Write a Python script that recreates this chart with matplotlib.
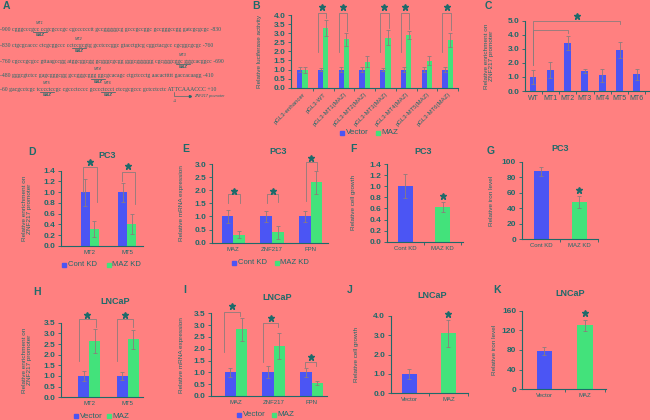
import matplotlib
matplotlib.use('Agg')
import matplotlib.pyplot as plt
from matplotlib.patches import Rectangle
from matplotlib.lines import Line2D
import numpy as np

# ---------------- data ----------------
b_cats = ['pGL3-enhancer', 'pGL3-WT', 'pGL3-MT1(MAZ)', 'pGL3-MT2(MAZ)',
          'pGL3-MT3(MAZ)', 'pGL3-MT4(MAZ)', 'pGL3-MT5(MAZ)', 'pGL3-MT6(MAZ)']
b_vector = [1.0, 1.0, 1.0, 1.0, 1.0, 1.0, 1.0, 1.0]
b_vector_err = [0.15, 0.1, 0.15, 0.12, 0.1, 0.12, 0.15, 0.12]
b_maz = [0.97, 3.27, 2.66, 1.43, 2.75, 2.9, 1.49, 2.63]
b_maz_err = [0.15, 0.45, 0.35, 0.3, 0.4, 0.2, 0.25, 0.4]
b_sig = [1, 2, 4, 5, 7]

c_cats = ['WT', 'MT1', 'MT2', 'MT3', 'MT4', 'MT5', 'MT6']
c_vals = [1.0, 1.5, 3.4, 1.42, 1.12, 2.93, 1.2]
c_err = [0.5, 0.55, 0.5, 0.15, 0.45, 0.55, 0.4]

d_cats = ['MT2', 'MT5']
d_cont = [1.0, 1.0]
d_cont_err = [0.25, 0.18]
d_kd = [0.31, 0.41]
d_kd_err = [0.15, 0.19]

e_cats = ['MAZ', 'ZNF217', 'FPN']
e_cont = [1.0, 1.0, 1.0]
e_cont_err = [0.25, 0.2, 0.2]
e_kd = [0.3, 0.4, 2.3]
e_kd_err = [0.13, 0.25, 0.45]

f_cats = ['Cont KD', 'MAZ KD']
f_vals = [1.0, 0.62]
f_err = [0.22, 0.09]

g_cats = ['Cont KD', 'MAZ KD']
g_vals = [88, 48]
g_err = [6, 8]

h_cats = ['MT2', 'MT5']
h_vector = [1.0, 1.0]
h_vector_err = [0.25, 0.2]
h_maz = [2.65, 2.72]
h_maz_err = [0.55, 0.45]

i_cats = ['MAZ', 'ZNF217', 'FPN']
i_vector = [1.0, 1.0, 1.0]
i_vector_err = [0.2, 0.25, 0.2]
i_maz = [2.82, 2.12, 0.55]
i_maz_err = [0.5, 0.55, 0.1]

j_cats = ['Vector', 'MAZ']
j_vals = [1.0, 3.1]
j_err = [0.25, 0.7]

k_cats = ['Vector', 'MAZ']
k_vals = [78, 130]
k_err = [8, 12]

seq_lines = [
    '-900 cgggcccgcc ccgcgcccgc cgcccccctt gccgggggcg gcccgccggc gccgggccgg gatcgcgcgc -830',
    '-830 ctgcgcaccc ctcgcggccc cctccgcgtg gcctcccggc gtacctgtcg cggctacgcc cgcggcgcgc -760',
    '-760 cgcccgcgcc gttaagccgg atggcggcgg gcgggcgcgg gggcgggggg cgcgggcggc gggcacggcc -690',
    '-480 gggcgtctcc gagcgggcgg gccgggcggg ggcgcacagc ctgctccctg aacacttttt gaccacaagg -410',
    '-60 gacgcctcgc tcccctccgc cgccctcccc gcccctccct ctccgcgccc gctcctcctc ATTCAAACCC +10',
]
mt_labels = ['MT1', 'MT2', 'MT3', 'MT4', 'MT5', 'MT6']

# ---------------- style ----------------
W, H = 650, 420
BG = '#FF8080'
TEAL = '#1E6A6A'
BLUE = '#4B55F4'
GREEN = '#43E27B'
GRAY = '#8C7C7C'

plt.rcParams['font.family'] = ['Liberation Sans', 'DejaVu Sans']

fig = plt.figure(figsize=(6.5, 4.2), dpi=100, facecolor=BG)


def fx(x):
    return x / W


def fy(y):
    return 1 - y / H


def mkax(l, t, r, b, xlim, ylim, yticks, fmt):
    ax = fig.add_axes([l / W, 1 - b / H, (r - l) / W, (b - t) / H])
    ax.set_facecolor('none')
    for s in ['top', 'right']:
        ax.spines[s].set_visible(False)
    for s in ['left', 'bottom']:
        ax.spines[s].set_color(TEAL)
        ax.spines[s].set_linewidth(0.8)
    ax.set_xlim(*xlim)
    ax.set_ylim(*ylim)
    ax.set_yticks(yticks)
    ax.set_yticklabels([fmt.format(v) for v in yticks])
    ax.tick_params(axis='y', colors=TEAL, labelsize=6, width=0.6, length=2, pad=2)
    for lab in ax.get_yticklabels():
        lab.set_fontweight('bold')
    ax.tick_params(axis='x', colors=TEAL, labelsize=4.3, length=0, pad=3)
    return ax


def ylab(ax, text, px, l, r, size=4.6):
    ax.set_ylabel(text, color=TEAL, fontsize=size, linespacing=1.1)
    ax.yaxis.set_label_coords((px - l) / (r - l), 0.5)


def minor_ticks(ax, n):
    ax.set_xticks([i + 0.5 for i in range(n - 1)] + [n - 0.5], minor=True)
    ax.tick_params(axis='x', which='minor', length=2, width=0.6, color=TEAL)


def grouped(ax, cats, v1, e1, v2, e2, w, off):
    x = np.arange(len(cats))
    ax.bar(x - off, v1, w, color=BLUE, zorder=2)
    ax.bar(x + off, v2, w, color=GREEN, zorder=2)
    ax.errorbar(x - off, v1, yerr=e1, fmt='none', ecolor=GRAY, elinewidth=0.6, capsize=1.2, capthick=0.6, zorder=3)
    ax.errorbar(x + off, v2, yerr=e2, fmt='none', ecolor=GRAY, elinewidth=0.6, capsize=1.2, capthick=0.6, zorder=3)
    ax.set_xticks(x)
    ax.set_xticklabels(cats)


def single(ax, cats, v, e, w):
    x = np.arange(len(cats))
    ax.bar(x, v, w, color=[BLUE, GREEN][:len(cats)] if len(cats) == 2 else BLUE, zorder=2)
    ax.errorbar(x, v, yerr=e, fmt='none', ecolor=GRAY, elinewidth=0.6, capsize=1.2, capthick=0.6, zorder=3)
    ax.set_xticks(x)
    ax.set_xticklabels(cats)


def bracket(ax, xl, xr, ytop, yl, yr, ystar, xstar=None):
    ax.plot([xl, xl, xr, xr], [yl, ytop, ytop, yr], color=GRAY, lw=0.6, clip_on=False, zorder=4)
    if xstar is None:
        xstar = (xl + xr) / 2
    star(ax, xstar, ystar)


def star(ax, x, y):
    ax.plot([x], [y], marker='*', ms=4.5, color=TEAL, mec=TEAL, clip_on=False, zorder=5)


def title(x, y, t):
    fig.text(fx(x), fy(y), t, color=TEAL, fontsize=6.5, fontweight='bold', ha='center', va='center')


def letter(x, y, t):
    fig.text(fx(x), fy(y), t, color=TEAL, fontsize=7.5, fontweight='bold', ha='center', va='center')


def legend(y, items, size=5.8):
    for xs, lab, col in items:
        fig.add_artist(Rectangle((fx(xs), fy(y + 2.2)), 4.4 / W, 4.4 / H,
                                 transform=fig.transFigure, color=col))
        fig.text(fx(xs + 5.5), fy(y), lab, color=TEAL, fontsize=size, ha='left', va='center')


# ---------------- Panel A ----------------
letter(6, 6, 'A')
line_y = [29, 45, 61, 76, 89]
for y, s in zip(line_y, seq_lines):
    fig.text(fx(0), fy(y), s, family=['Liberation Serif', 'DejaVu Serif'], fontsize=4.15,
             color=TEAL, ha='left', va='center')
mt_pos = [(40, 0), (79, 1), (183, 2), (98, 3), (47, 4), (108, 4)]
for (x, li), lab in zip(mt_pos, mt_labels):
    y = line_y[li]
    fig.text(fx(x), fy(y - 6.5), lab, fontsize=2.8, style='italic', color=TEAL, ha='center', va='center')
    fig.text(fx(x), fy(y + 6), 'MAZ', fontsize=3.0, style='italic', fontweight='bold', color=TEAL,
             ha='center', va='center')
    fig.add_artist(Line2D([fx(x - 7), fx(x + 7)], [fy(y + 2.5), fy(y + 2.5)], color=TEAL, lw=0.5))
fig.add_artist(Line2D([fx(174), fx(174), fx(190)], [fy(92), fy(96), fy(96)], color=TEAL, lw=0.4))
fig.add_artist(Line2D([fx(190)], [fy(96)], marker='>', ms=1.5, color=TEAL))
fig.text(fx(175), fy(100.5), '+1', fontsize=2.6, color=TEAL, ha='center', va='center')
fig.text(fx(194), fy(96), 'ZNF217 promoter', fontsize=2.8, style='italic', color=TEAL, ha='left', va='center')

# ---------------- Panel B ----------------
letter(256, 6, 'B')
l, t, r, b = 291, 15, 458, 87.7
ax = mkax(l, t, r, b, (-0.55, 7.45), (0, 4.0), [0, 0.5, 1, 1.5, 2, 2.5, 3, 3.5, 4], '{:.1f}')
grouped(ax, b_cats, b_vector, b_vector_err, b_maz, b_maz_err, 0.25, 0.125)
ax.set_xticklabels(b_cats, rotation=45, ha='right', rotation_mode='anchor', fontsize=4.3)
minor_ticks(ax, 8)
ylab(ax, 'Relative luciferase activity', 262, l, r)
for i in b_sig:
    bracket(ax, i - 0.25, i + 0.16, 4.12, 1.95, b_maz[i] + b_maz_err[i] + 0.12, 4.42)
legend(133, [(340, 'Vector', BLUE), (376, 'MAZ', GREEN)])

# ---------------- Panel C ----------------
letter(488, 6, 'C')
l, t, r, b = 525, 20.7, 650, 91
ax = mkax(l, t, r, b, (-0.46, 6.76), (0, 5.0), [0, 1, 2, 3, 4, 5], '{:.1f}')
x = np.arange(len(c_cats))
ax.bar(x, c_vals, 0.4, color=BLUE, zorder=2)
ax.errorbar(x, c_vals, yerr=c_err, fmt='none', ecolor=GRAY, elinewidth=0.6, capsize=1.2, capthick=0.6, zorder=3)
ax.set_xticks(x)
ax.set_xticklabels(c_cats, fontsize=5)
minor_ticks(ax, 7)
ylab(ax, 'Relative enrichment on\nZNF217 promoter', 494, l, r)
ax.plot([0, 0, 2, 2], [1.87, 4.33, 4.33, 4.15], color=GRAY, lw=0.6, clip_on=False)
ax.plot([0, 0, 5, 5], [1.87, 5.0, 5.0, 4.8], color=GRAY, lw=0.6, clip_on=False)
star(ax, 2.55, 5.3)

# ---------------- Panel D ----------------
letter(32, 152, 'D')
title(107, 155.5, 'PC3')
l, t, r, b = 61, 170.7, 143, 246
ax = mkax(l, t, r, b, (-0.77, 1.42), (0, 1.4), [0, 0.2, 0.4, 0.6, 0.8, 1.0, 1.2, 1.4], '{:.1f}')
grouped(ax, d_cats, d_cont, d_cont_err, d_kd, d_kd_err, 0.245, 0.123)
ylab(ax, 'Relative enrichment on\nZNF217 promoter', 32, l, r)
bracket(ax, -0.19, 0.2, 1.46, 1.0, 0.82, 1.57)
bracket(ax, 0.85, 1.2, 1.37, 1.2, 0.79, 1.49)
legend(265, [(62, 'Cont KD', BLUE), (107, 'MAZ KD', GREEN)], 5.5)

# ---------------- Panel E ----------------
letter(186, 149, 'E')
title(278, 152, 'PC3')
l, t, r, b = 211.7, 164, 328, 242.7
ax = mkax(l, t, r, b, (-0.56, 2.45), (0, 3.0), [0, 0.5, 1, 1.5, 2, 2.5, 3], '{:.1f}')
grouped(ax, e_cats, e_cont, e_cont_err, e_kd, e_kd_err, 0.3, 0.15)
ylab(ax, 'Relative mRNA expression', 184, l, r)
bracket(ax, -0.13, 0.16, 1.84, 1.5, 1.5, 1.98)
bracket(ax, 0.87, 1.16, 1.84, 1.5, 1.55, 1.98)
bracket(ax, 1.87, 2.16, 3.06, 1.6, 2.77, 3.22)
legend(262.7, [(232, 'Cont KD', BLUE), (275, 'MAZ KD', GREEN)], 5.5)

# ---------------- Panel F ----------------
letter(353, 149, 'F')
title(423, 152, 'PC3')
l, t, r, b = 386.7, 164, 463, 241.7
ax = mkax(l, t, r, b, (-0.49, 1.54), (0, 1.4), [0, 0.2, 0.4, 0.6, 0.8, 1.0, 1.2, 1.4], '{:.1f}')
single(ax, f_cats, f_vals, f_err, 0.4)
minor_ticks(ax, 2)
ylab(ax, 'Relative cell growth', 356, l, r)
star(ax, 1, 0.82)

# ---------------- Panel G ----------------
letter(491, 151, 'G')
title(560, 148, 'PC3')
l, t, r, b = 521.7, 162, 598, 239
ax = mkax(l, t, r, b, (-0.52, 1.48), (0, 100), [0, 20, 40, 60, 80, 100], '{:.0f}')
single(ax, g_cats, g_vals, g_err, 0.4)
minor_ticks(ax, 2)
ylab(ax, 'Relative iron level', 494, l, r)
star(ax, 1, 64)

# ---------------- Panel H ----------------
letter(37, 292, 'H')
title(115, 302, 'LNCaP')
l, t, r, b = 61, 322.7, 143, 397.3
ax = mkax(l, t, r, b, (-0.74, 1.4), (0, 3.5), [0, 0.5, 1, 1.5, 2, 2.5, 3, 3.5], '{:.1f}')
grouped(ax, h_cats, h_vector, h_vector_err, h_maz, h_maz_err, 0.29, 0.145)
ylab(ax, 'Relative enrichment on\nZNF217 promoter', 32, l, r)
bracket(ax, -0.27, 0.17, 3.68, 1.68, 3.32, 3.85)
bracket(ax, 0.73, 1.15, 3.68, 1.7, 3.3, 3.85)
legend(416, [(74, 'Vector', BLUE), (107, 'MAZ', GREEN)])

# ---------------- Panel I ----------------
letter(185, 290, 'I')
title(277, 298, 'LNCaP')
l, t, r, b = 210.7, 313.3, 327, 396
ax = mkax(l, t, r, b, (-0.67, 2.41), (0, 3.5), [0, 0.5, 1, 1.5, 2, 2.5, 3, 3.5], '{:.1f}')
grouped(ax, i_cats, i_vector, i_vector_err, i_maz, i_maz_err, 0.3, 0.15)
ylab(ax, 'Relative mRNA expression', 184, l, r)
bracket(ax, -0.31, 0.1, 3.57, 1.87, 3.37, 3.8)
bracket(ax, 0.72, 1.11, 3.1, 1.45, 2.93, 3.32)
bracket(ax, 1.84, 2.13, 1.45, 1.24, 1.27, 1.64)
legend(415, [(237, 'Vector', BLUE), (272, 'MAZ', GREEN)])

# ---------------- Panel J ----------------
letter(350, 290, 'J')
title(432, 295, 'LNCaP')
l, t, r, b = 390.7, 315.7, 468, 393.3
ax = mkax(l, t, r, b, (-0.48, 1.48), (0, 4.0), [0, 1, 2, 3, 4], '{:.1f}')
single(ax, j_cats, j_vals, j_err, 0.38)
minor_ticks(ax, 2)
ylab(ax, 'Relative cell growth', 359, l, r)
star(ax, 1, 4.08)

# ---------------- Panel K ----------------
letter(497, 290, 'K')
title(570, 293, 'LNCaP')
l, t, r, b = 521.7, 310.7, 606, 389.3
ax = mkax(l, t, r, b, (-0.56, 1.52), (0, 160), [0, 40, 80, 120, 160], '{:.0f}')
single(ax, k_cats, k_vals, k_err, 0.38)
minor_ticks(ax, 2)
ylab(ax, 'Relative iron level', 497, l, r)
star(ax, 1, 155)

fig.savefig('out.png', dpi=100, facecolor=BG)
